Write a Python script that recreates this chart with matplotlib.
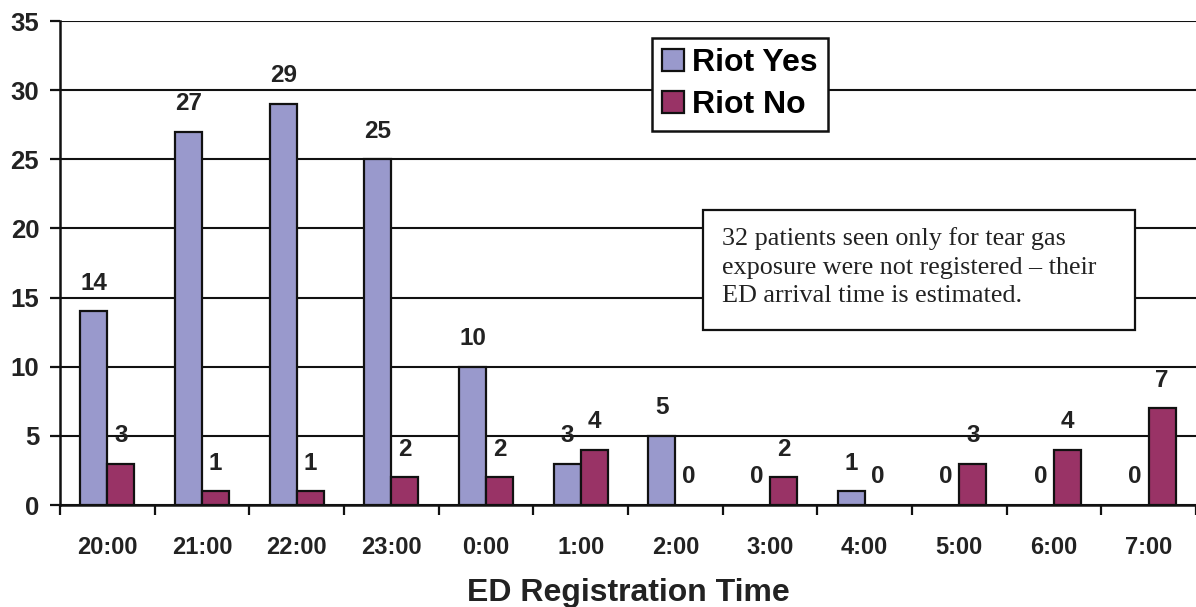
import numpy as np
import matplotlib.pyplot as plt
from matplotlib.patches import Rectangle

# ED registrations per hour, riot-related vs not
hours = ['20:00', '21:00', '22:00', '23:00', '0:00', '1:00',
         '2:00', '3:00', '4:00', '5:00', '6:00', '7:00']
riot_yes = [14, 27, 29, 25, 10, 3, 5, 0, 1, 0, 0, 0]
riot_no = [3, 1, 1, 2, 2, 4, 0, 2, 0, 3, 4, 7]

yes_color = '#9999cc'
no_color = '#993366'

plt.rcParams['font.family'] = ['Liberation Sans', 'DejaVu Sans']

fig = plt.figure(figsize=(11.96, 6.07), dpi=100)
ax = fig.add_axes([0.0502, 0.168, 0.9498, 0.7974])

x = np.arange(len(hours))
w = 0.285
b1 = ax.bar(x - w / 2, riot_yes, w, color=yes_color, edgecolor='#111111',
            linewidth=1.6, label='Riot Yes', zorder=3)
b2 = ax.bar(x + w / 2, riot_no, w, color=no_color, edgecolor='#111111',
            linewidth=1.6, label='Riot No', zorder=3)

for bars, vals in ((b1, riot_yes), (b2, riot_no)):
    for rect, v in zip(bars, vals):
        if v == 0:
            rect.set_linewidth(0)
        ax.annotate(str(v), (rect.get_x() + rect.get_width() / 2, v),
                    xytext=(0, 12), textcoords='offset points',
                    ha='center', va='bottom', fontsize=17.5,
                    fontweight='bold', color='#222222', zorder=4)

ax.set_xlim(-0.5, len(hours) - 0.5)
ax.set_ylim(0, 35)
ax.set_yticks(range(0, 36, 5))
ax.yaxis.grid(True, color='#111111', linewidth=1.5, zorder=0)
ax.set_axisbelow(True)

ax.set_xticks(x)
ax.set_xticklabels(hours)
ax.set_xticks(np.arange(-0.5, len(hours)), minor=True)
ax.tick_params(axis='x', which='major', length=0, pad=22, labelsize=17,
               labelcolor='#222222')
ax.tick_params(axis='x', which='minor', length=7, width=1.6, direction='out',
               color='#111111')
ax.tick_params(axis='y', length=7, width=1.6, pad=8, labelsize=18.5,
               labelcolor='#222222', color='#111111')
for lbl in ax.get_xticklabels() + ax.get_yticklabels():
    lbl.set_fontweight('bold')

for s in ('top', 'right'):
    ax.spines[s].set_visible(False)
for s in ('left', 'bottom'):
    ax.spines[s].set_linewidth(1.8)
    ax.spines[s].set_color('#111111')

ax.set_xlabel('ED Registration Time', fontsize=23, fontweight='bold',
              color='#222222', labelpad=14)

leg = ax.legend(loc='upper left', bbox_to_anchor=(0.521, 0.965),
                prop={'weight': 'bold', 'size': 23},
                frameon=True, fancybox=False, edgecolor='#111111',
                handlelength=0.7, handleheight=0.7, handletextpad=0.25,
                borderpad=0.32, labelspacing=0.38, borderaxespad=0)
leg.get_frame().set_linewidth(1.8)
leg.get_frame().set_alpha(1)
leg.set_zorder(5)

# note box
ax.add_patch(Rectangle((0.566, 0.3616), 0.38, 0.248, transform=ax.transAxes,
                       facecolor='white', edgecolor='#111111', linewidth=1.6,
                       zorder=5))
ax.text(0.583, 0.574,
        '32 patients seen only for tear gas\n'
        'exposure were not registered \u2013 their\n'
        'ED arrival time is estimated.',
        transform=ax.transAxes, ha='left', va='top', fontsize=18.8,
        family=['Liberation Serif', 'DejaVu Serif'], color='#222222',
        linespacing=1.38, zorder=6)

fig.savefig('out.png', dpi=100)
